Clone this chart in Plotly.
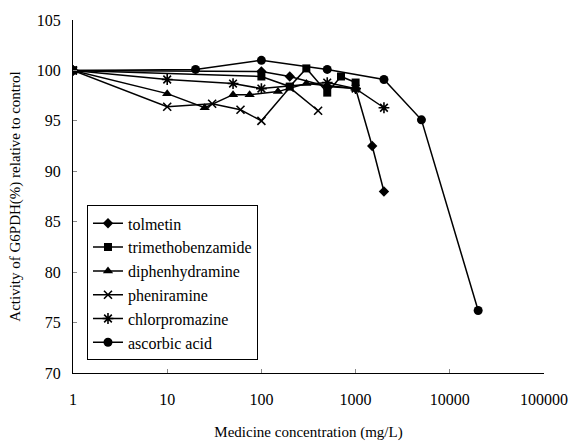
import plotly.graph_objects as go

# ---- data ----
tolmetin_x = [1, 100, 200, 500, 1000, 1500, 2000]
tolmetin_y = [100, 99.9, 99.4, 98.4, 98.2, 92.5, 88.0]

trimetho_x = [1, 100, 200, 300, 500, 700, 1000]
trimetho_y = [100, 99.4, 98.4, 100.2, 97.8, 99.4, 98.8]

diphen_x = [1, 10, 25, 50, 75, 150, 300, 1000]
diphen_y = [100, 97.7, 96.3, 97.6, 97.6, 97.9, 98.7, 98.2]

phenir_x = [1, 10, 30, 60, 100, 200, 400]
phenir_y = [100, 96.4, 96.7, 96.1, 95.0, 98.3, 96.0]

chlorp_x = [1, 10, 50, 100, 500, 1000, 2000]
chlorp_y = [100, 99.1, 98.7, 98.2, 98.8, 98.2, 96.3]

ascorb_x = [1, 20, 100, 500, 2000, 5000, 20000]
ascorb_y = [100, 100.1, 101.0, 100.1, 99.1, 95.1, 76.2]

x_tick_vals = [1, 10, 100, 1000, 10000, 100000]
x_tick_text = ["1", "10", "100", "1000", "10000", "100000"]
y_tick_vals = [70, 75, 80, 85, 90, 95, 100, 105]

series = [
    ("tolmetin", tolmetin_x, tolmetin_y, "diamond", 8, 0),
    ("trimethobenzamide", trimetho_x, trimetho_y, "square", 8, 0),
    ("diphenhydramine", diphen_x, diphen_y, "triangle-up", 9, 0),
    ("pheniramine", phenir_x, phenir_y, "x-thin-open", 8, 1.6),
    ("chlorpromazine", chlorp_x, chlorp_y, "asterisk-open", 9, 1.6),
    ("ascorbic acid", ascorb_x, ascorb_y, "circle", 9, 0),
]

FONT = "Liberation Serif"

fig = go.Figure()
for name, xs, ys, sym, size, lw in series:
    fig.add_trace(go.Scatter(
        x=xs, y=ys, name=name, mode="lines+markers",
        line=dict(color="black", width=1.5),
        marker=dict(symbol=sym, size=size, color="black",
                    line=dict(color="black", width=lw)),
    ))

fig.update_layout(
    width=571, height=441,
    margin=dict(l=73, r=27, t=19.5, b=68.3),
    paper_bgcolor="white", plot_bgcolor="white",
    font=dict(family=FONT, size=16, color="black"),
    showlegend=True,
    legend=dict(
        x=0.0297, y=0.4748, xanchor="left", yanchor="top",
        bgcolor="white", bordercolor="black", borderwidth=1,
        font=dict(family=FONT, size=16, color="black"),
        itemwidth=30,
    ),
    xaxis=dict(
        type="log", range=[0, 5], automargin=False,
        tickvals=x_tick_vals, ticktext=x_tick_text,
        ticks="inside", ticklen=4, tickcolor="#888888",
        showline=True, linecolor="black", linewidth=1,
        showgrid=False, zeroline=False, mirror=False,
        ticklabelstandoff=12,
        tickfont=dict(family=FONT, size=16, color="black"),
        title=dict(text="Medicine concentration (mg/L)",
                   font=dict(family=FONT, size=15, color="black"), standoff=28),
    ),
    yaxis=dict(
        range=[70, 105], automargin=False,
        tickvals=y_tick_vals,
        ticks="inside", ticklen=4, tickcolor="#888888",
        showline=True, linecolor="black", linewidth=1,
        showgrid=False, zeroline=False, mirror=False,
        ticklabelstandoff=8,
        tickfont=dict(family=FONT, size=16, color="black"),
        title=dict(text="Activity of G6PDH(%) relative to control",
                   font=dict(family=FONT, size=15, color="black"), standoff=12),
    ),
)

fig.write_html("out.html")
